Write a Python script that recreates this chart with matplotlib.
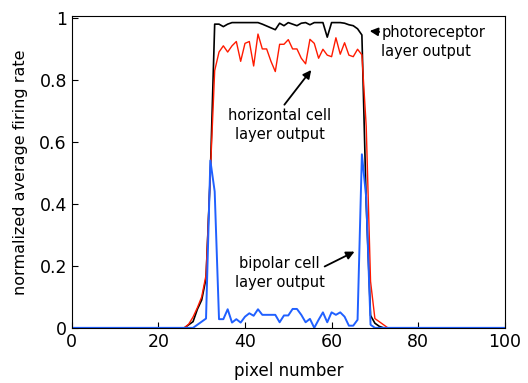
import numpy as np
import matplotlib
matplotlib.use("Agg")
import matplotlib.pyplot as plt
from matplotlib.ticker import FuncFormatter

# pixel positions 0..100
pixels = np.arange(0, 101)

# values for pixels 26..73, everything else is zero
edge_start = 26
photoreceptor_mid = [
    0.0, 0.01, 0.02, 0.06, 0.09, 0.16, 0.5,                 # 26-32
    0.98, 0.98, 0.972, 0.98, 0.985, 0.985, 0.985, 0.985,     # 33-40
    0.985, 0.985, 0.985, 0.98, 0.974, 0.968, 0.962, 0.983,   # 41-48
    0.975, 0.985, 0.98, 0.975, 0.983, 0.985, 0.978, 0.985,   # 49-56
    0.985, 0.985, 0.938, 0.985, 0.985, 0.985, 0.983, 0.978,  # 57-64
    0.975, 0.965, 0.945, 0.4, 0.04, 0.015, 0.005, 0.0, 0.0,  # 65-73
]
horizontal_mid = [
    0.0, 0.012, 0.035, 0.065, 0.1, 0.17, 0.5,                # 26-32
    0.83, 0.89, 0.91, 0.89, 0.91, 0.924, 0.86, 0.918,        # 33-40
    0.924, 0.845, 0.948, 0.90, 0.90, 0.86, 0.827, 0.915,     # 41-48
    0.915, 0.93, 0.90, 0.90, 0.87, 0.852, 0.931, 0.918,      # 49-56
    0.87, 0.899, 0.88, 0.875, 0.936, 0.883, 0.92, 0.88,      # 57-64
    0.875, 0.899, 0.881, 0.65, 0.15, 0.03, 0.02, 0.01, 0.0,  # 65-73
]
bipolar_mid = [
    0.0, 0.0, 0.0, 0.01, 0.02, 0.03, 0.54,                   # 26-32
    0.44, 0.028, 0.028, 0.06, 0.017, 0.028, 0.017, 0.036,    # 33-40
    0.047, 0.039, 0.06, 0.042, 0.042, 0.042, 0.042, 0.018,   # 41-48
    0.04, 0.04, 0.061, 0.061, 0.042, 0.018, 0.029, 0.0,      # 49-56
    0.026, 0.05, 0.018, 0.05, 0.042, 0.05, 0.036, 0.007,     # 57-64
    0.007, 0.026, 0.56, 0.42, 0.01, 0.0, 0.0, 0.0, 0.0,      # 65-73
]


def full_series(mid):
    vals = np.zeros(len(pixels))
    vals[edge_start:edge_start + len(mid)] = mid
    return vals


photoreceptor = full_series(photoreceptor_mid)
horizontal = full_series(horizontal_mid)
bipolar = full_series(bipolar_mid)

fig = plt.figure(figsize=(5.28, 3.83), dpi=100)
ax = fig.add_axes([0.136, 0.144, 0.820, 0.814])

ax.plot(pixels, photoreceptor, color="black", lw=1.2)
ax.plot(pixels, horizontal, color="#ff1a00", lw=1.0)
ax.plot(pixels, bipolar, color="#2060ff", lw=1.4)

ax.set_xlim(0, 100)
ax.set_ylim(0, 1.006)
ax.set_xticks([0, 20, 40, 60, 80, 100])
ax.set_yticks([0, 0.2, 0.4, 0.6, 0.8, 1.0])
ax.yaxis.set_major_formatter(FuncFormatter(lambda v, p: f"{v:g}"))
ax.tick_params(direction="in", labelsize=12.5, length=4, width=0.8)
ax.set_xlabel("pixel number", fontsize=12, labelpad=8)
ax.set_ylabel("normalized average firing rate", fontsize=11.5, labelpad=8)

# labels for the three curves
label_kw = dict(fontsize=10.5, linespacing=1.35)
ax.text(71.5, 0.922, "photoreceptor\nlayer output", ha="left", va="center", **label_kw)
ax.text(48.0, 0.655, "horizontal cell\nlayer output", ha="center", va="center", **label_kw)
ax.text(48.0, 0.178, "bipolar cell\nlayer output", ha="center", va="center", **label_kw)

# arrows pointing at the curves
arrow = dict(arrowstyle="-|>", color="black", lw=1.3, mutation_scale=12, shrinkA=0, shrinkB=0)
ax.annotate("", xy=(68.8, 0.958), xytext=(71.0, 0.955), arrowprops=arrow)
ax.annotate("", xy=(55.3, 0.832), xytext=(49.1, 0.72), arrowprops=arrow)
ax.annotate("", xy=(65.3, 0.246), xytext=(58.4, 0.198), arrowprops=arrow)

fig.savefig("out.png", dpi=100)
